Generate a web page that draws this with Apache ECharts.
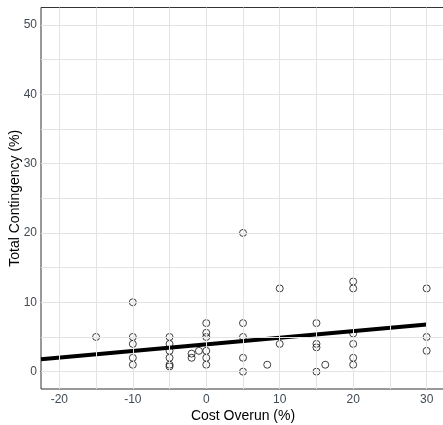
<!DOCTYPE html>
<html><head><meta charset="utf-8">
<script src="https://cdn.jsdelivr.net/npm/echarts@6/dist/echarts.min.js"></script>
<style>html,body{margin:0;padding:0;background:#fff}#c{width:443px;height:425px}</style>
</head><body><div id="c"></div>
<script>
// Observations: cost overrun (%) and total contingency (%)
const overrunX = [-15, -10,-10,-10,-10,-10, -5,-5,-5,-5,-5,-5, -2,-2, -1, 0,0,0,0,0,0,
  5,5,5,5,5, 8.3, 10,10, 15,15,15,15, 16.2, 20,20,20,20,20,20, 30,30,30];
const contingencyY = [5, 10,5,4,2,1, 5,4,3,2,1,0.75, 2.6,2, 3, 7,5.6,5,3,2,1,
  20,7,5,2,0, 1, 12,4, 7,4,3.5,0, 1, 13,12,5.5,4,2,1, 12,5,3];
// Fitted regression line endpoints
const fitX = [-22.5, 30];
const fitY = [1.8, 6.8];
// Tick values
const xTicks = [-20, -10, 0, 10, 20, 30];
const yTicks = [0, 10, 20, 30, 40, 50];
const xGrid = [-20, -15, -10, -5, 0, 5, 10, 15, 20, 25, 30];
const yGrid = [0, 5, 10, 15, 20, 25, 30, 35, 40, 45, 50];

const chart = echarts.init(document.getElementById('c'));
const gridStyle = {color: '#e3e3e3', width: 1, type: 'solid'};
const labelColor = '#3f4a56';
chart.setOption({
  animation: false,
  grid: {left: 41, right: -2, top: 7.5, bottom: 36, show: true, borderColor: '#333', borderWidth: 1,
    backgroundColor: '#fff', containLabel: false, outerBoundsMode: 'none'},
  xAxis: {
    type: 'value', min: -22.5, max: 32.5,
    name: 'Cost Overun (%)', nameLocation: 'middle', nameGap: 20, nameMoveOverlap: false,
    nameTextStyle: {fontFamily: 'Liberation Sans', fontSize: 14, color: '#000'},
    axisLine: {show: true, lineStyle: {color: '#333'}},
    axisTick: {show: true, length: 3, customValues: xTicks, lineStyle: {color: '#333'}},
    axisLabel: {customValues: xTicks, margin: 5, fontFamily: 'Liberation Sans', fontSize: 12, color: labelColor},
    splitLine: {show: false}
  },
  yAxis: {
    type: 'value', min: -2.5, max: 52.5,
    name: 'Total Contingency (%)', nameLocation: 'middle', nameGap: 19, nameMoveOverlap: false,
    nameTextStyle: {fontFamily: 'Liberation Sans', fontSize: 14, color: '#000'},
    axisLine: {show: true, lineStyle: {color: '#333'}},
    axisTick: {show: true, length: 3, customValues: yTicks, lineStyle: {color: '#333'}},
    axisLabel: {customValues: yTicks, margin: 4, fontFamily: 'Liberation Sans', fontSize: 12, color: labelColor},
    splitLine: {show: false}
  },
  series: [
    {
      type: 'line', data: [], silent: true, z: 1,
      markLine: {
        silent: true, symbol: 'none', label: {show: false}, lineStyle: gridStyle, animation: false,
        data: xGrid.map(v => ({xAxis: v})).concat(yGrid.map(v => ({yAxis: v})))
      }
    },
    {
      type: 'scatter', z: 3,
      data: overrunX.map((x, i) => [x, contingencyY[i]]),
      symbol: 'circle', symbolSize: 7,
      itemStyle: {color: 'rgba(0,0,0,0)', borderColor: '#111', borderWidth: 1}
    },
    {
      type: 'line', z: 4,
      data: fitX.map((x, i) => [x, fitY[i]]),
      symbol: 'none', lineStyle: {color: '#000', width: 4}
    }
  ]
});
</script></body></html>
